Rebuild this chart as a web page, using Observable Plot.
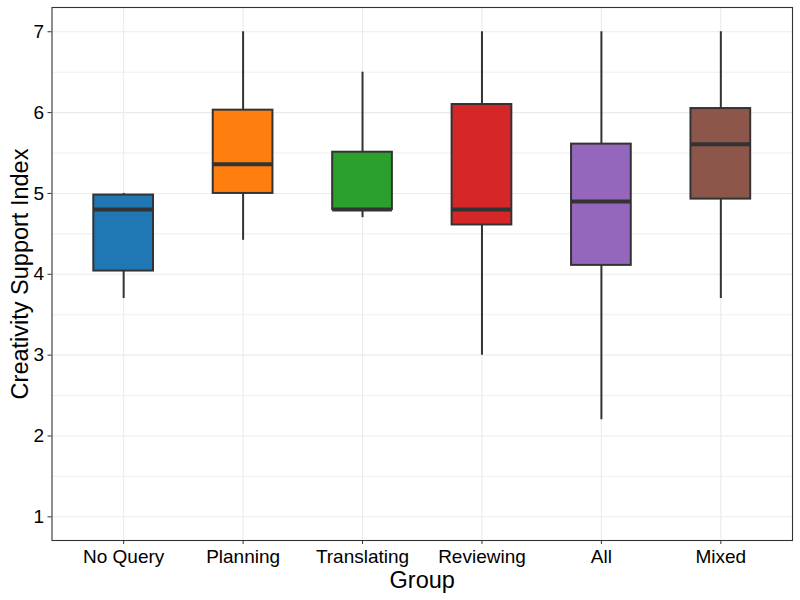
<!DOCTYPE html>
<html>
<head>
<meta charset="utf-8">
<script src="https://cdn.jsdelivr.net/npm/d3@7"></script>
<script src="https://cdn.jsdelivr.net/npm/@observablehq/plot@0.6"></script>
<style>
  html, body { margin: 0; padding: 0; background: #fff; }
  #chart { width: 800px; height: 600px; }
</style>
</head>
<body>
<div id="chart"></div>
<script>
const groups = ["No Query", "Planning", "Translating", "Reviewing", "All", "Mixed"];
const whiskerLow = [3.7, 4.42, 4.7, 3.0, 2.2, 3.7];
const q1 = [4.04, 5.0, 4.8, 4.61, 4.11, 4.93];
const median = [4.8, 5.36, 4.8, 4.8, 4.9, 5.61];
const q3 = [4.98, 6.03, 5.51, 6.1, 5.61, 6.05];
const whiskerHigh = [5.0, 7.0, 6.5, 7.0, 7.0, 7.0];
const colors = ["#1f77b4", "#ff7f0e", "#2ca02c", "#d62728", "#9467bd", "#8c564b"];
const yTicks = [1, 2, 3, 4, 5, 6, 7];
const yMinorTicks = [1.5, 2.5, 3.5, 4.5, 5.5, 6.5];
const xTitle = "Group";
const yTitle = "Creativity Support Index";

const rows = groups.map((g, i) => ({
  group: g, lo: whiskerLow[i], q1: q1[i], med: median[i], q3: q3[i], hi: whiskerHigh[i]
}));

const chart = Plot.plot({
  width: 800,
  height: 600,
  marginLeft: 51.5,
  marginRight: 8,
  marginTop: 7,
  marginBottom: 60,
  style: { fontFamily: "'Liberation Sans', Arial, sans-serif", fontSize: "19px", color: "black", background: "white" },
  x: { type: "band", domain: groups, paddingInner: 0.5, paddingOuter: 0.35, round: false, label: null },
  y: { domain: [0.707, 7.3], label: null },
  color: { domain: groups, range: colors },
  marks: [
    Plot.ruleY(yMinorTicks, { stroke: "#ebebeb", strokeWidth: 0.8 }),
    Plot.ruleY(yTicks, { stroke: "#ebebeb", strokeWidth: 1.1 }),
    Plot.ruleX(groups, { x: d => d, stroke: "#ebebeb", strokeWidth: 1.1 }),
    Plot.ruleX(rows, { x: "group", y1: "lo", y2: "hi", stroke: "#333333", strokeWidth: 2 }),
    Plot.barY(rows, { x: "group", y1: "q1", y2: "q3", fill: "group", stroke: "#333333", strokeWidth: 2 }),
    Plot.tickY(rows, { x: "group", y: "med", stroke: "#333333", strokeWidth: 4 }),
    Plot.frame({ stroke: "#333333", strokeWidth: 1.1 }),
    Plot.axisY({ ticks: yTicks, tickFormat: d => String(d), tickSize: 4, tickPadding: 4, fontSize: 19, stroke: "#333333", fill: "black", label: null }),
    Plot.axisX({ tickSize: 4, tickPadding: 5, fontSize: 19, stroke: "#333333", fill: "black", label: null }),
    Plot.text([xTitle], { frameAnchor: "bottom", lineAnchor: "middle", dy: 40, fontSize: 23.5, fill: "black" }),
    Plot.text([yTitle], { frameAnchor: "left", lineAnchor: "middle", dx: -32, rotate: -90, textAnchor: "middle", fontSize: 23.5, fill: "black" })
  ]
});
document.getElementById("chart").appendChild(chart);
</script>
</body>
</html>
